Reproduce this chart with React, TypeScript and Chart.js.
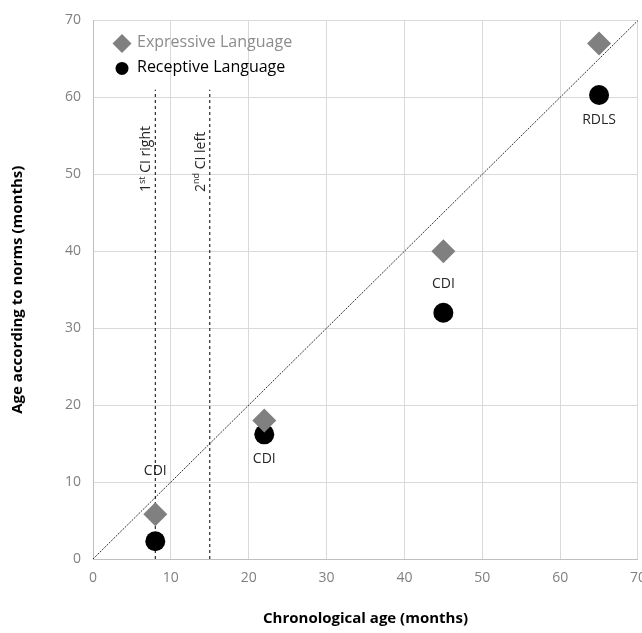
import React, { useEffect, useRef } from 'react';
import { Chart, registerables } from 'chart.js';

Chart.register(...registerables);

// ---- data ----
const chronologicalAge = [8, 22, 45, 65];
const expressiveAge = [5.8, 18, 40, 67];
const receptiveAge = [2.3, 16.2, 32, 60.3];
const testNames = ['CDI', 'CDI', 'CDI', 'RDLS'];
const testLabelAge = [11.5, 13, 35.7, 57];
const ciAges = [8, 15];
const ciTopAge = 61;
const ciLabelStartAge = 47.7;
const ciLabelParts = [
  ['1', 'st', ' CI right'],
  ['2', 'nd', ' CI left'],
];
const diagonalAges = [0, 70];
const axisMin = 0;
const axisMax = 70;
const axisStep = 10;
const seriesNames = ['Expressive Language', 'Receptive Language'];
const xTitle = 'Chronological age (months)';
const yTitle = 'Age according to norms (months)';

const FONT = "'Open Sans', sans-serif";

const overlayPlugin = {
  id: 'overlay',
  afterDatasetsDraw(chart: any) {
    const { ctx, chartArea, scales } = chart;
    const xs = scales.x;
    const ys = scales.y;
    ctx.save();
    // test labels
    ctx.font = `14px ${FONT}`;
    ctx.fillStyle = '#262626';
    ctx.textAlign = 'center';
    ctx.textBaseline = 'middle';
    testNames.forEach((t, i) => {
      ctx.fillText(t, xs.getPixelForValue(chronologicalAge[i]), ys.getPixelForValue(testLabelAge[i]));
    });
    // CI labels (rotated)
    ciAges.forEach((a, i) => {
      const px = xs.getPixelForValue(a) - 9;
      const py = ys.getPixelForValue(ciLabelStartAge);
      ctx.save();
      ctx.translate(px, py);
      ctx.rotate(-Math.PI / 2);
      ctx.textAlign = 'left';
      ctx.textBaseline = 'middle';
      ctx.fillStyle = '#262626';
      const [a1, sup, rest] = ciLabelParts[i];
      let x = 0;
      ctx.font = `14px ${FONT}`;
      ctx.fillText(a1, x, 0);
      x += ctx.measureText(a1).width;
      ctx.font = `9px ${FONT}`;
      ctx.fillText(sup, x, -4);
      x += ctx.measureText(sup).width;
      ctx.font = `14px ${FONT}`;
      ctx.fillText(rest, x, 0);
      ctx.restore();
    });
    // legend
    const lx = chartArea.left + 29;
    const ly1 = chartArea.top + 23;
    const ly2 = chartArea.top + 48;
    ctx.fillStyle = '#808080';
    ctx.beginPath();
    ctx.moveTo(lx, ly1 - 9.5);
    ctx.lineTo(lx + 9.5, ly1);
    ctx.lineTo(lx, ly1 + 9.5);
    ctx.lineTo(lx - 9.5, ly1);
    ctx.closePath();
    ctx.fill();
    ctx.fillStyle = '#000000';
    ctx.beginPath();
    ctx.arc(lx, ly2, 6.5, 0, Math.PI * 2);
    ctx.fill();
    ctx.font = `16px ${FONT}`;
    ctx.textAlign = 'left';
    ctx.textBaseline = 'middle';
    ctx.fillStyle = '#8c8c8c';
    ctx.fillText(seriesNames[0], lx + 15, ly1 - 1);
    ctx.fillStyle = '#000000';
    ctx.fillText(seriesNames[1], lx + 15, ly2 - 1);
    ctx.restore();
  },
};

export default function App() {
  const ref = useRef<HTMLCanvasElement>(null);
  useEffect(() => {
    if (!ref.current) return;
    const datasets: any[] = [
      {
        label: seriesNames[0],
        data: chronologicalAge.map((x, i) => ({ x, y: expressiveAge[i] })),
        pointStyle: 'rectRot',
        pointRadius: 12,
        backgroundColor: '#808080',
        borderColor: '#808080',
        borderWidth: 0,
        showLine: false,
        order: 0,
      },
      {
        label: seriesNames[1],
        data: chronologicalAge.map((x, i) => ({ x, y: receptiveAge[i] })),
        pointStyle: 'circle',
        pointRadius: 10,
        backgroundColor: '#000000',
        borderColor: '#000000',
        borderWidth: 0,
        showLine: false,
        order: 0,
      },
      {
        label: 'identity',
        data: diagonalAges.map((v) => ({ x: v, y: v })),
        showLine: true,
        pointRadius: 0,
        borderColor: '#303030',
        borderWidth: 1,
        borderDash: [2, 1.2],
        order: 2,
      },
      ...ciAges.map((a) => ({
        label: 'ci',
        data: [
          { x: a, y: axisMin },
          { x: a, y: ciTopAge },
        ],
        showLine: true,
        pointRadius: 0,
        borderColor: '#000000',
        borderWidth: 1,
        borderDash: [3, 3],
        order: 1,
      })),
    ];
    const chart = new Chart(ref.current, {
      type: 'scatter',
      data: { datasets },
      options: {
        animation: false,
        responsive: false,
        layout: { padding: { top: 17, right: 7, left: 0, bottom: 0 } },
        plugins: { legend: { display: false }, tooltip: { enabled: false } },
        scales: {
          x: {
            type: 'linear',
            min: axisMin,
            max: axisMax,
            ticks: { stepSize: axisStep, color: '#808080', font: { family: FONT, size: 14 }, padding: 11 },
            grid: { color: '#d9d9d9', lineWidth: 1, drawTicks: false },
            border: { color: '#bfbfbf' },
            title: {
              display: true,
              text: xTitle,
              color: '#000000',
              font: { family: FONT, size: 15, weight: 'bold' },
              padding: { top: 4, bottom: 5 },
            },
            afterFit: (s: any) => {
              s.height = 74;
            },
          },
          y: {
            type: 'linear',
            min: axisMin,
            max: axisMax,
            ticks: { stepSize: axisStep, color: '#808080', font: { family: FONT, size: 14 }, padding: 12 },
            grid: { color: '#d9d9d9', lineWidth: 1, drawTicks: false },
            border: { color: '#bfbfbf' },
            title: {
              display: true,
              text: yTitle,
              color: '#000000',
              font: { family: FONT, size: 15, weight: 'bold' },
              padding: { top: 9, bottom: 4 },
            },
            afterFit: (s: any) => {
              s.width = 93;
            },
          },
        },
      },
      plugins: [overlayPlugin],
    });
    return () => chart.destroy();
  }, []);
  return (
    <div style={{ position: 'fixed', left: 0, top: 0, width: 642, height: 633, overflow: 'hidden', background: '#fff' }}>
      <canvas ref={ref} width={657} height={633} style={{ display: 'block', width: 657, height: 633 }} />
    </div>
  );
}
